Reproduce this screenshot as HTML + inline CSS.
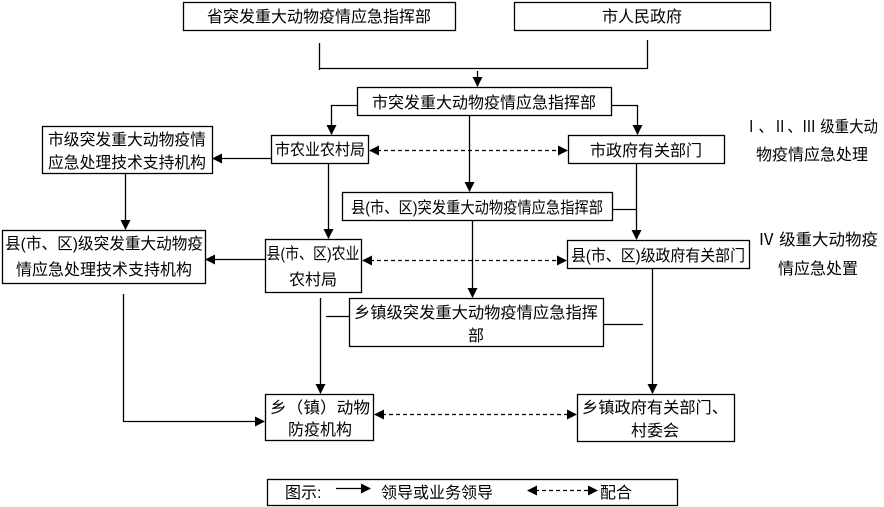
<!DOCTYPE html>
<html><head><meta charset="utf-8"><style>
html,body{margin:0;padding:0;background:#fff;}
svg{display:block;}
text{font-family:"Liberation Sans","Noto Sans CJK SC",sans-serif;font-size:16px;fill:#000;}
</style></head><body>
<svg width="884" height="507" viewBox="0 0 884 507" xmlns="http://www.w3.org/2000/svg">
<defs>
<marker id="a" markerWidth="10" markerHeight="10" refX="9" refY="5" orient="auto" markerUnits="userSpaceOnUse"><path d="M0,0 L10,5 L0,10 z" fill="#000"/></marker>
<marker id="s" markerWidth="10" markerHeight="10" refX="1" refY="5" orient="auto" markerUnits="userSpaceOnUse"><path d="M10,0 L0,5 L10,10 z" fill="#000"/></marker>
</defs>
<g fill="none" stroke="#000" stroke-width="1.3">
<rect x="183.5" y="2.5" width="272" height="28"/>
<rect x="514.5" y="2.5" width="256" height="28"/>
<rect x="357.5" y="87.5" width="254" height="28"/>
<rect x="42.5" y="126.5" width="170" height="47"/>
<rect x="271.5" y="135.5" width="97" height="28"/>
<rect x="568.5" y="135.5" width="156" height="28"/>
<rect x="342.5" y="192.5" width="270" height="28"/>
<rect x="2.5" y="230.5" width="203" height="53"/>
<rect x="265.5" y="239.5" width="96" height="53"/>
<rect x="567.5" y="240.5" width="182" height="28"/>
<rect x="349.5" y="298.5" width="254" height="48"/>
<rect x="265.5" y="394.5" width="108" height="46"/>
<rect x="577.5" y="394.5" width="157" height="47"/>
<rect x="267.5" y="479.5" width="410" height="26"/>
<path d="M319.5,43 V70 M647.5,40 V68.5 H319.5"/>
<path d="M477.5,71 V86" marker-end="url(#a)"/>
<path d="M357,105.5 H331.5 V134" marker-end="url(#a)"/>
<path d="M611,105.5 H637.5 V134" marker-end="url(#a)"/>
<path d="M271,158.5 H213" marker-end="url(#a)"/>
<path d="M469.5,115 V191" marker-end="url(#a)"/>
<path d="M125.5,174 V229" marker-end="url(#a)"/>
<path d="M328.5,164 V238" marker-end="url(#a)"/>
<path d="M612,209.5 H636.5"/>
<path d="M636.5,164 V239" marker-end="url(#a)"/>
<path d="M265,259.5 H206" marker-end="url(#a)"/>
<path d="M472.5,221 V297" marker-end="url(#a)"/>
<path d="M326,316.5 H349"/>
<path d="M320.5,298 V393" marker-end="url(#a)"/>
<path d="M603,324.5 H643"/>
<path d="M652.5,269 V393" marker-end="url(#a)"/>
<path d="M123.5,294 V421.5 H264" marker-end="url(#a)"/>
<path d="M336,488.5 H370" marker-end="url(#a)"/>
</g>
<g fill="none" stroke="#000" stroke-width="1.3" stroke-dasharray="4,3">
<path d="M370,150.5 H567" marker-start="url(#s)" marker-end="url(#a)"/>
<path d="M363,260.5 H566" marker-start="url(#s)" marker-end="url(#a)"/>
<path d="M375,414.5 H576" marker-start="url(#s)" marker-end="url(#a)"/>
<path d="M528,490.5 H597" marker-start="url(#s)" marker-end="url(#a)"/>
</g>
<g text-anchor="middle">
<text x="319" y="22">省突发重大动物疫情应急指挥部</text>
<text x="642" y="22">市人民政府</text>
<text x="484" y="108">市突发重大动物疫情应急指挥部</text>
<text x="127" y="145" textLength="158" lengthAdjust="spacingAndGlyphs">市级突发重大动物疫情</text>
<text x="127" y="168" textLength="158" lengthAdjust="spacingAndGlyphs">应急处理技术支持机构</text>
<text x="320" y="155" textLength="90" lengthAdjust="spacingAndGlyphs">市农业农村局</text>
<text x="646" y="156">市政府有关部门</text>
<text x="477" y="213" textLength="252" lengthAdjust="spacingAndGlyphs">县(市、区)突发重大动物疫情应急指挥部</text>
<text x="104" y="249" textLength="198" lengthAdjust="spacingAndGlyphs">县(市、区)级突发重大动物疫</text>
<text x="104" y="275">情应急处理技术支持机构</text>
<text x="313" y="259" textLength="93" lengthAdjust="spacingAndGlyphs">县(市、区)农业</text>
<text x="313" y="285">农村局</text>
<text x="658" y="261" textLength="174" lengthAdjust="spacingAndGlyphs">县(市、区)级政府有关部门</text>
<text x="476" y="318" textLength="244" lengthAdjust="spacingAndGlyphs">乡镇级突发重大动物疫情应急指挥</text>
<text x="476" y="341">部</text>
<text x="320" y="413" textLength="100" lengthAdjust="spacingAndGlyphs">乡（镇）动物</text>
<text x="320" y="435">防疫机构</text>
<text x="655" y="413" textLength="146" lengthAdjust="spacingAndGlyphs">乡镇政府有关部门、</text>
<text x="655" y="436">村委会</text>
<text x="811" y="132" textLength="134" lengthAdjust="spacingAndGlyphs">Ⅰ、Ⅱ、Ⅲ 级重大动</text>
<text x="812" y="160">物疫情应急处理</text>
<text x="818" y="245" textLength="120" lengthAdjust="spacingAndGlyphs">Ⅳ 级重大动物疫</text>
<text x="818" y="274">情应急处置</text>
</g>
<text x="285" y="498">图示:</text>
<text x="381" y="498">领导或业务领导</text>
<text x="600" y="498">配合</text>
</svg>
</body></html>
